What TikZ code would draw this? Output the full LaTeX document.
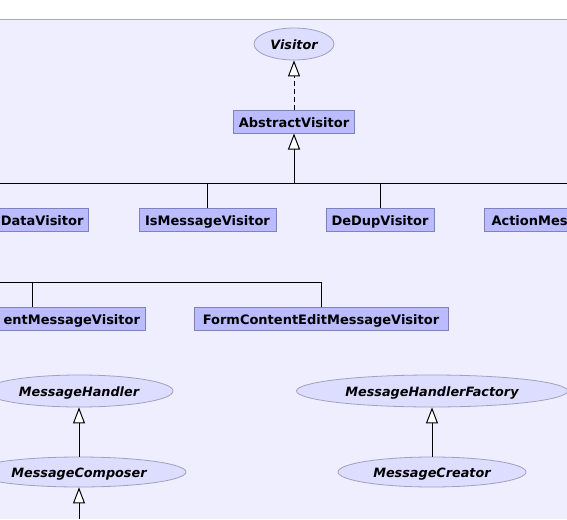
\documentclass[tikz,border=0pt]{standalone}
\usepackage{fontspec}
\newfontfamily\umlfont{DejaVu Sans}
\usetikzlibrary{arrows.meta,shapes.geometric}

\definecolor{bgfill}{RGB}{238,238,255}
\definecolor{topline}{RGB}{170,170,182}
\definecolor{clsfill}{RGB}{187,187,255}
\definecolor{clsdraw}{RGB}{128,128,190}
\definecolor{ifcfill}{RGB}{221,221,255}
\definecolor{ifcdraw}{RGB}{160,160,192}

\tikzset{
  cls/.style={draw=clsdraw, fill=clsfill, line width=1pt,
    font=\umlfont\fontsize{13}{15}\selectfont\bfseries,
    minimum height=23pt, inner xsep=5pt, inner ysep=0pt,
    text height=11pt, text depth=0pt},
  ifc/.style={ellipse, draw=ifcdraw, fill=ifcfill, line width=0.8pt,
    font=\umlfont\fontsize{12.8}{15}\selectfont\bfseries\itshape,
    inner sep=0pt, text height=10pt, text depth=0pt},
  link/.style={line width=1pt},
  inherit/.style={link, -{Triangle[open, width=12pt, length=16pt, fill=white]}},
  realize/.style={inherit, dash pattern=on 5pt off 3pt}
}

\begin{document}
\begin{tikzpicture}[x=1pt, y=-1pt]

% Page size (same as the screenshot):
\def\pagew{567}
\def\pageh{519}
% Top edge of the diagram panel:
\def\paneltop{19.5}

\useasboundingbox (0,0) rectangle (\pagew,\pageh);
\clip (0,0) rectangle (\pagew,\pageh);

%--- panel background
\fill[bgfill] (0,\paneltop) rectangle (\pagew,\pageh);
\draw[topline] (0,\paneltop) -- (\pagew,\paneltop);

%--- interfaces (ellipses)
\node[ifc, minimum width=80pt, minimum height=32pt] (visitor) at (294,44) {Visitor};
\node[ifc, minimum width=188pt, minimum height=32pt] (handler) at (79,391) {MessageHandler};
\node[ifc, minimum width=214pt, minimum height=30pt] (composer) at (79,472) {MessageComposer};
\node[ifc, minimum width=271pt, minimum height=32pt] (factory) at (432,391) {MessageHandlerFactory};
\node[ifc, minimum width=188pt, minimum height=30pt] (creator) at (432,472) {MessageCreator};

%--- classes (boxes)
\node[cls, minimum width=121pt] (abs) at (294,121.5) {AbstractVisitor};
\node[cls, anchor=east] (data) at (89,219.5) {DataVisitor};
\node[cls, minimum width=137pt] (isMsg) at (207.5,219.5) {IsMessageVisitor};
\node[cls, minimum width=108pt] (dedup) at (380,219.5) {DeDupVisitor};
% cut off on the right: text kept to the left side of the box
\node[cls, anchor=west, text width=140pt, align=left, inner xsep=7pt] (action) at (484,219.5) {ActionMes};
% cut off on the left: text kept to the right side of the box
\node[cls, text width=216pt, align=right] (content) at (32,318.5) {entMessageVisitor};
\node[cls, minimum width=254pt] (formEdit) at (321,318.5) {FormContentEditMessageVisitor};

%--- Visitor <- AbstractVisitor (dashed)
\draw[realize] (abs.north) -- (visitor.south);

%--- first row of subclasses
\coordinate (busA) at (0,183);
\coordinate (busB) at (\pagew,183);
\draw[link] (busA) -- (busB);
\draw[inherit] (abs.south |- busA) -- (abs.south);
\foreach \n in {isMsg, dedup}
  \draw[link] (\n.north) -- (\n.north |- busA);

%--- second row of subclasses
\coordinate (busC) at (0,282);
\draw[link] (busC) -| (formEdit.north);
\draw[link] (content.north) -- (content.north |- busC);

%--- handler interfaces
\draw[inherit] (composer.north) -- (handler.south);
\draw[inherit] (creator.north) -- (factory.south);
\coordinate (bottomEdge) at (0,\pageh);
\draw[inherit] (composer.south |- bottomEdge) -- (composer.south);

\end{tikzpicture}
\end{document}
